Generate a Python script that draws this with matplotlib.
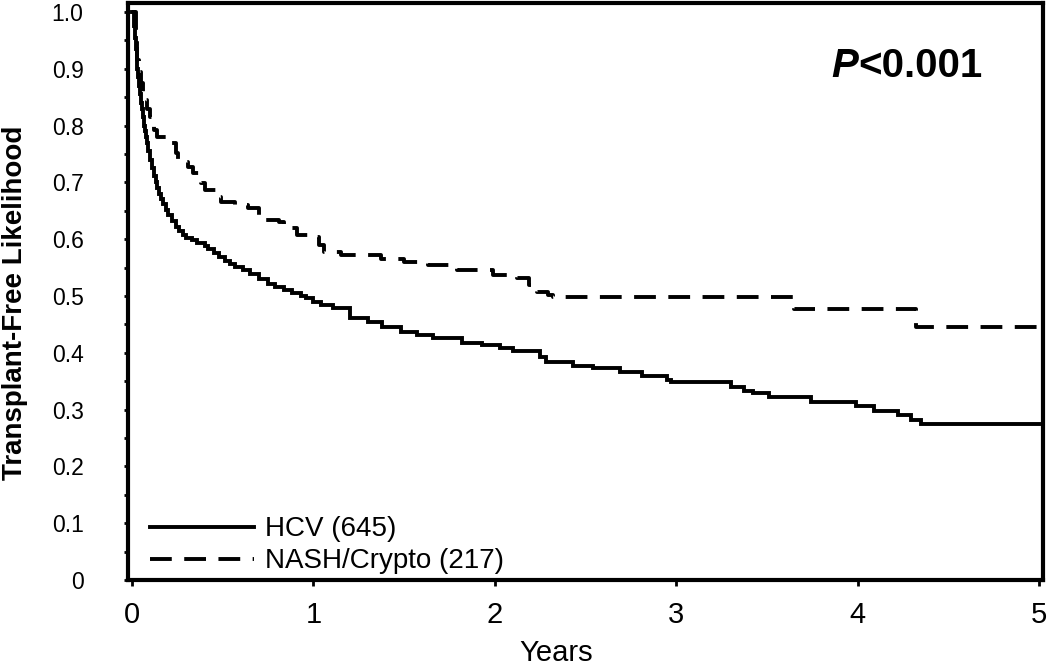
import matplotlib
matplotlib.use("Agg")
import matplotlib.pyplot as plt
from matplotlib.ticker import MultipleLocator

plt.rcParams['font.family'] = ['Liberation Sans', 'DejaVu Sans']

# HCV (645) Kaplan-Meier estimate
hcv_t = [0.0, 0.005, 0.01, 0.015, 0.02, 0.025, 0.03, 0.035, 0.04, 0.045, 0.05, 0.055,
         0.06, 0.065, 0.07, 0.075, 0.08, 0.09, 0.10, 0.11, 0.12, 0.13, 0.14, 0.15,
         0.16, 0.17, 0.185, 0.20, 0.22, 0.24, 0.26, 0.28, 0.30, 0.33, 0.36, 0.40,
         0.42, 0.45, 0.48, 0.51, 0.54, 0.57, 0.61, 0.65, 0.70, 0.75, 0.79, 0.84,
         0.88, 0.93, 0.96, 1.0, 1.04, 1.11, 1.20,
         1.30, 1.38, 1.48, 1.57, 1.66, 1.82, 1.93, 2.03, 2.10, 2.25, 2.28, 2.43,
         2.54, 2.69, 2.81, 2.95, 2.97, 3.30, 3.37, 3.42, 3.51, 3.74, 3.99, 4.09,
         4.22, 4.29, 4.35, 5.0]
hcv_s = [1.0, 1.0, 0.975, 0.955, 0.935, 0.915, 0.90, 0.885, 0.87, 0.855, 0.84, 0.83,
         0.815, 0.80, 0.79, 0.78, 0.77, 0.755, 0.74, 0.725, 0.712, 0.70, 0.69, 0.68,
         0.67, 0.662, 0.652, 0.642, 0.632, 0.622, 0.614, 0.607, 0.602, 0.598, 0.594, 0.588,
         0.582, 0.575, 0.569, 0.562, 0.556, 0.551, 0.545, 0.538, 0.530, 0.522, 0.516, 0.51,
         0.505, 0.50, 0.496, 0.49, 0.485, 0.479, 0.461,
         0.454, 0.445, 0.437, 0.431, 0.426, 0.417, 0.414, 0.408, 0.404, 0.393, 0.383, 0.377,
         0.373, 0.366, 0.360, 0.352, 0.348, 0.339, 0.332, 0.329, 0.323, 0.313, 0.307, 0.298,
         0.29, 0.282, 0.275, 0.275]

# NASH/Crypto (217) Kaplan-Meier estimate
nash_t = [0.0, 0.01, 0.02, 0.03, 0.04, 0.05, 0.06, 0.07, 0.085, 0.10, 0.12, 0.14, 0.19,
          0.245, 0.255, 0.31, 0.335, 0.38, 0.40, 0.465, 0.49, 0.57, 0.64, 0.70, 0.73,
          0.81, 0.84, 0.91, 0.97, 1.03, 1.06, 1.15, 1.37, 1.50, 1.63, 1.75, 1.79,
          1.99, 2.12, 2.19, 2.23, 2.29, 2.32, 3.65, 4.32, 5.0]
nash_s = [1.0, 1.0, 0.96, 0.915, 0.895, 0.875, 0.86, 0.845, 0.83, 0.815, 0.792, 0.78, 0.769,
          0.752, 0.736, 0.727, 0.716, 0.699, 0.687, 0.675, 0.666, 0.660, 0.655, 0.639, 0.634,
          0.630, 0.620, 0.607, 0.604, 0.59, 0.578, 0.572, 0.566, 0.56, 0.555, 0.552, 0.545,
          0.537, 0.531, 0.519, 0.508, 0.502, 0.499, 0.477, 0.445, 0.445]

labels = ["HCV (645)", "NASH/Crypto (217)"]
x_ticks = [0, 1, 2, 3, 4, 5]
y_ticks = [0, 0.1, 0.2, 0.3, 0.4, 0.5, 0.6, 0.7, 0.8, 0.9, 1.0]
y_ticklabels = ["0", "0.1", "0.2", "0.3", "0.4", "0.5", "0.6", "0.7", "0.8", "0.9", "1.0"]

fig = plt.figure(figsize=(10.5, 6.68), dpi=100)
ax = fig.add_axes([128/1050, (668-580)/668, (1043-128)/1050, (580-3)/668])

ax.plot(hcv_t, hcv_s, drawstyle='steps-post', color='black', lw=2.8,
        solid_joinstyle='miter', label=labels[0])
ax.plot(nash_t, nash_s, drawstyle='steps-post', color='black', lw=2.8,
        dashes=(5.6, 3.2), label=labels[1])

ax.set_xlim(-0.022, 5.02)
ax.set_ylim(0, 1.016)

ax.set_xticks(x_ticks)
ax.set_xticklabels([str(v) for v in x_ticks], fontsize=21)
ax.set_yticks(y_ticks)
ax.set_yticklabels(y_ticklabels, fontsize=16.5)
ax.yaxis.set_minor_locator(MultipleLocator(0.05))

for s in ax.spines.values():
    s.set_linewidth(3)
    s.set_color('black')

ax.tick_params(axis='y', which='major', direction='out', length=3, width=2, pad=29)
ax.tick_params(axis='y', which='minor', direction='out', length=3, width=2)
ax.tick_params(axis='x', which='major', direction='out', length=4, width=2, pad=11)

fig.text(15/1050, (668-303)/668, "Transplant-Free Likelihood", rotation=90,
         fontsize=20, fontweight='bold', ha='center', va='center')
fig.text(556/1050, 7/668, "Years", fontsize=21, ha='center', va='baseline')

ax.text(4.0, 0.886, "P", fontsize=29, fontweight='bold', fontstyle='italic',
        ha='right', va='baseline')
ax.text(4.0, 0.886, "<0.001", fontsize=29, fontweight='bold',
        ha='left', va='baseline')

leg = ax.legend(loc='lower left', bbox_to_anchor=(16/915, 0.0), frameon=False,
                fontsize=20, handlelength=3.75, handletextpad=0.42,
                labelspacing=0.22, borderaxespad=0.1, borderpad=0.1)

fig.savefig("out.png", dpi=100)
